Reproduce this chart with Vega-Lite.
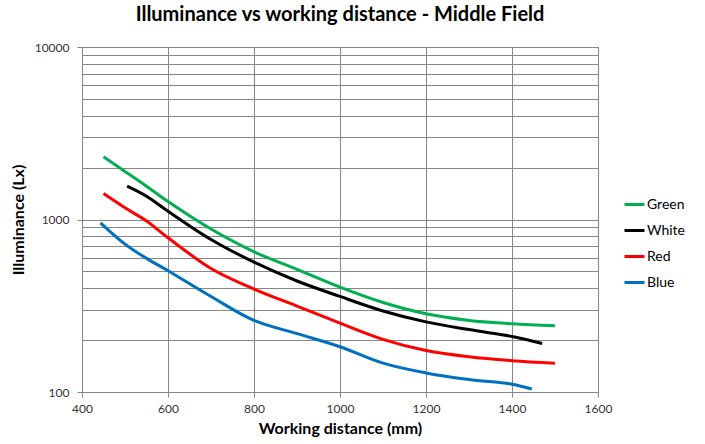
{
  "$schema": "https://vega.github.io/schema/vega-lite/v6.json",
  "width": 516,
  "height": 345,
  "autosize": {"type": "none"},
  "padding": {"left": 82, "top": 47, "right": 107, "bottom": 52},
  "background": "white",
  "config": {
    "font": "Lato",
    "view": {"stroke": "#878787", "strokeWidth": 1}
  },
  "title": {
    "text": "Illuminance vs working distance - Middle Field",
    "fontSize": 20,
    "font": "Lato",
    "fontWeight": "bold",
    "color": "#000000",
    "anchor": "middle",
    "offset": 16
  },
  "data": {
    "values": [
      {"series": "Green", "distance": 450, "lux": 2310},
      {"series": "Green", "distance": 500, "lux": 1900},
      {"series": "Green", "distance": 550, "lux": 1560},
      {"series": "Green", "distance": 600, "lux": 1270},
      {"series": "Green", "distance": 700, "lux": 880},
      {"series": "Green", "distance": 800, "lux": 650},
      {"series": "Green", "distance": 900, "lux": 514},
      {"series": "Green", "distance": 1000, "lux": 405},
      {"series": "Green", "distance": 1100, "lux": 330},
      {"series": "Green", "distance": 1200, "lux": 284},
      {"series": "Green", "distance": 1300, "lux": 260},
      {"series": "Green", "distance": 1400, "lux": 249},
      {"series": "Green", "distance": 1500, "lux": 242},
      {"series": "White", "distance": 505, "lux": 1560},
      {"series": "White", "distance": 550, "lux": 1364},
      {"series": "White", "distance": 600, "lux": 1117},
      {"series": "White", "distance": 700, "lux": 766},
      {"series": "White", "distance": 800, "lux": 566},
      {"series": "White", "distance": 900, "lux": 440},
      {"series": "White", "distance": 1000, "lux": 358},
      {"series": "White", "distance": 1100, "lux": 295},
      {"series": "White", "distance": 1200, "lux": 255},
      {"series": "White", "distance": 1300, "lux": 230},
      {"series": "White", "distance": 1400, "lux": 210},
      {"series": "White", "distance": 1470, "lux": 191},
      {"series": "Red", "distance": 450, "lux": 1413},
      {"series": "Red", "distance": 500, "lux": 1169},
      {"series": "Red", "distance": 550, "lux": 980},
      {"series": "Red", "distance": 600, "lux": 784},
      {"series": "Red", "distance": 700, "lux": 520},
      {"series": "Red", "distance": 800, "lux": 395},
      {"series": "Red", "distance": 900, "lux": 315},
      {"series": "Red", "distance": 1000, "lux": 251},
      {"series": "Red", "distance": 1100, "lux": 202},
      {"series": "Red", "distance": 1200, "lux": 174},
      {"series": "Red", "distance": 1300, "lux": 160},
      {"series": "Red", "distance": 1400, "lux": 152},
      {"series": "Red", "distance": 1500, "lux": 147},
      {"series": "Blue", "distance": 443, "lux": 957},
      {"series": "Blue", "distance": 500, "lux": 720},
      {"series": "Blue", "distance": 550, "lux": 595},
      {"series": "Blue", "distance": 600, "lux": 505},
      {"series": "Blue", "distance": 700, "lux": 358},
      {"series": "Blue", "distance": 800, "lux": 260},
      {"series": "Blue", "distance": 900, "lux": 218},
      {"series": "Blue", "distance": 1000, "lux": 183},
      {"series": "Blue", "distance": 1100, "lux": 147},
      {"series": "Blue", "distance": 1200, "lux": 129},
      {"series": "Blue", "distance": 1300, "lux": 118},
      {"series": "Blue", "distance": 1400, "lux": 111},
      {"series": "Blue", "distance": 1446, "lux": 104}
    ]
  },
  "mark": {"type": "line", "strokeWidth": 3, "interpolate": "catmull-rom"},
  "encoding": {
    "x": {
      "field": "distance",
      "type": "quantitative",
      "scale": {"domain": [400, 1600], "nice": false, "zero": false},
      "axis": {
        "values": [400, 600, 800, 1000, 1200, 1400, 1600],
        "format": "d",
        "title": "Working distance (mm)",
        "titleFontSize": 16,
        "titleFontWeight": "bold",
        "titleColor": "#000000",
        "titlePadding": 6,
        "labelFontSize": 12,
        "labelColor": "#333333",
        "labelPadding": 6,
        "labelFlush": false,
        "tickSize": 5,
        "tickColor": "#878787",
        "domainColor": "#878787",
        "grid": true,
        "gridColor": "#878787",
        "gridWidth": 1
      }
    },
    "y": {
      "field": "lux",
      "type": "quantitative",
      "scale": {"type": "log", "domain": [100, 10000], "nice": false},
      "axis": {
        "values": [100, 200, 300, 400, 500, 600, 700, 800, 900, 1000, 2000, 3000, 4000, 5000, 6000, 7000, 8000, 9000, 10000],
        "labelExpr": "(datum.value == 100 || datum.value == 1000 || datum.value == 10000) ? datum.value : ''",
        "title": "Illuminance (Lx)",
        "titleFontSize": 16,
        "titleFontWeight": "bold",
        "titleColor": "#000000",
        "titlePadding": 8,
        "labelFontSize": 12,
        "labelColor": "#333333",
        "labelPadding": 8,
        "labelFlush": false,
        "tickSize": 5,
        "tickColor": "#878787",
        "tickOpacity": {"condition": {"test": "datum.value == 100 || datum.value == 1000 || datum.value == 10000", "value": 1}, "value": 0},
        "domainColor": "#878787",
        "grid": true,
        "gridColor": "#878787",
        "gridWidth": 1
      }
    },
    "color": {
      "field": "series",
      "type": "nominal",
      "scale": {
        "domain": ["Green", "White", "Red", "Blue"],
        "range": ["#00B050", "#000000", "#FF0000", "#0070C0"]
      },
      "legend": {
        "title": null,
        "orient": "none",
        "legendX": 541,
        "legendY": 146,
        "symbolType": "stroke",
        "symbolSize": 400,
        "symbolStrokeWidth": 3,
        "labelFontSize": 14,
        "labelColor": "#000000",
        "labelOffset": 1,
        "rowPadding": 7
      }
    }
  }
}
